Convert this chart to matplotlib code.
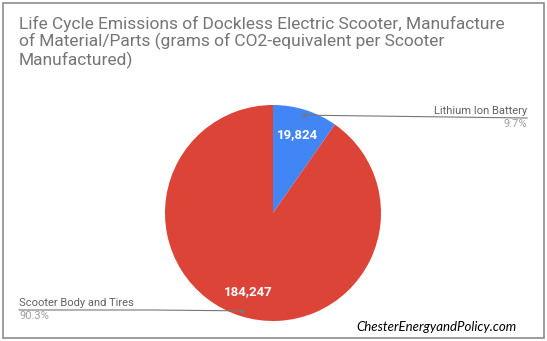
import numpy as np
import matplotlib
matplotlib.use("Agg")
import matplotlib.pyplot as plt
from matplotlib.patches import Rectangle

# data
labels = ["Lithium Ion Battery", "Scooter Body and Tires"]
values = [19824, 184247]
colors = ["#4285F4", "#DB4437"]
title = ("Life Cycle Emissions of Dockless Electric Scooter, Manufacture\n"
         "of Material/Parts (grams of CO2-equivalent per Scooter\n"
         "Manufactured)")

plt.rcParams["font.family"] = ["Roboto", "DejaVu Sans"]

W, H = 547, 341
fig = plt.figure(figsize=(W / 100, H / 100), dpi=100)
ax = fig.add_axes([0, 0, 1, 1])

# outer border
ax.add_patch(Rectangle((3, 3), W - 6, H - 6, fill=False, ec="#8c8c8c", lw=1.2))

cx, cy, R = 273, 128, 108
wedges, _ = ax.pie(values, colors=colors, startangle=90, counterclock=False,
                   center=(cx, cy), radius=R, frame=True,
                   wedgeprops=dict(linewidth=0))
ax.set_xlim(0, W)
ax.set_ylim(0, H)
ax.set_aspect("equal")
ax.axis("off")

total = sum(values)
mids = []
for w in wedges:
    mids.append(np.deg2rad((w.theta1 + w.theta2) / 2))

# value labels inside slices
for m, v in zip(mids, values):
    r = 0.76 * R
    ax.text(cx + r * np.cos(m), cy + r * np.sin(m), f"{v:,}", color="white",
            fontsize=9.5, fontweight="bold", ha="center", va="center")

# leader lines + outside labels
grey = "#777777"
pct = [v / total * 100 for v in values]

m = mids[0]
dx, dy = cx + 0.95 * R * np.cos(m), cy + 0.95 * R * np.sin(m)
ax.plot([dx, 527], [dy, 223], color=grey, lw=0.8)
ax.plot(dx, dy, "o", color=grey, ms=2)
ax.text(527, 225, labels[0], ha="right", va="bottom", fontsize=8, color="#616161")
ax.text(527, 222, f"{pct[0]:.1f}%", ha="right", va="top", fontsize=8, color="#9e9e9e")

m = mids[1]
dx, dy = cx + 0.95 * R * np.cos(m), cy + 0.95 * R * np.sin(m)
ax.plot([19, 152, dx], [31, 31, dy], color=grey, lw=0.8)
ax.plot(dx, dy, "o", color=grey, ms=2)
ax.text(19, 33, labels[1], ha="left", va="bottom", fontsize=8, color="#616161")
ax.text(19, 30, f"{pct[1]:.1f}%", ha="left", va="top", fontsize=8, color="#9e9e9e")

ax.text(19, H - 16, title, ha="left", va="top", fontsize=12.5, color="#757575",
        linespacing=1.08)

ax.text(516, 14, "ChesterEnergyandPolicy.com", ha="right", va="center",
        fontsize=9.5, style="italic", color="black", family=["Lato", "DejaVu Sans"])

fig.savefig("out.png", dpi=100)
